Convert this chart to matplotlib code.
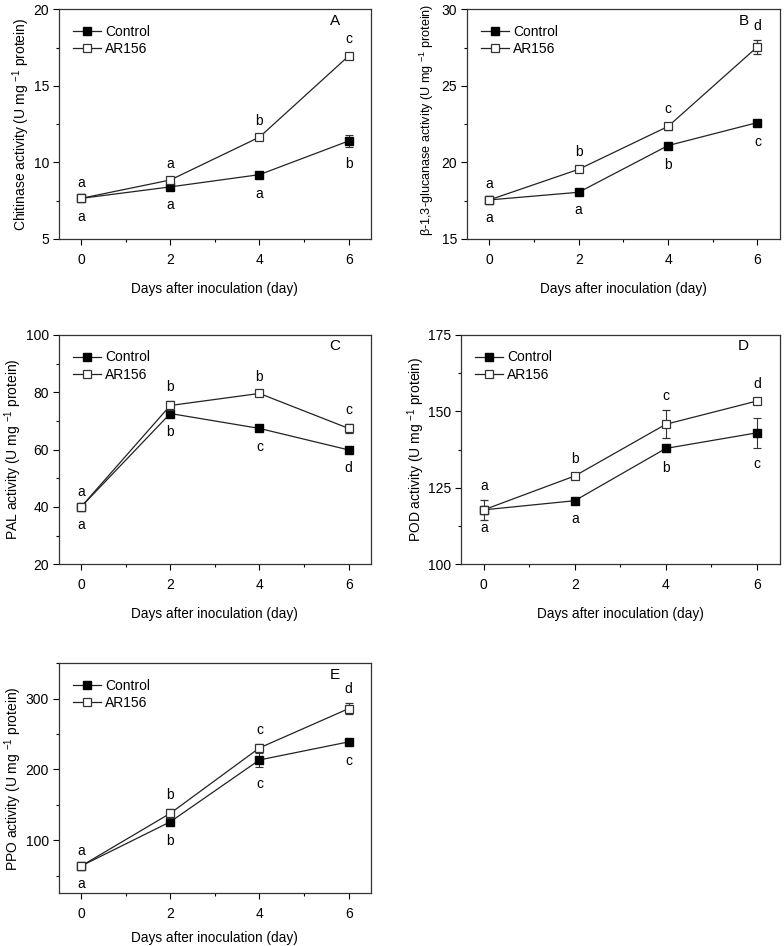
import matplotlib
matplotlib.use('Agg')
import matplotlib.pyplot as plt
from matplotlib.ticker import MultipleLocator
from matplotlib.lines import Line2D

plt.rcParams['font.family'] = ['Liberation Sans', 'DejaVu Sans']
plt.rcParams['mathtext.fontset'] = 'custom'
plt.rcParams['mathtext.rm'] = 'Liberation Sans'
plt.rcParams['mathtext.it'] = 'Liberation Sans:italic'

days = [0, 2, 4, 6]

# A - chitinase
chi_ctrl = [7.65, 8.4, 9.2, 11.4]
chi_ctrl_err = [0.1, 0.1, 0.15, 0.4]
chi_ar = [7.65, 8.85, 11.65, 16.95]
chi_ar_err = [0.1, 0.15, 0.15, 0.2]
chi_ctrl_lab = ['a', 'a', 'a', 'b']
chi_ar_lab = ['a', 'a', 'b', 'c']

# B - beta-1,3-glucanase
glu_ctrl = [17.55, 18.05, 21.1, 22.6]
glu_ctrl_err = [0.1, 0.1, 0.15, 0.15]
glu_ar = [17.55, 19.55, 22.35, 27.55]
glu_ar_err = [0.15, 0.2, 0.25, 0.45]
glu_ctrl_lab = ['a', 'a', 'b', 'c']
glu_ar_lab = ['a', 'b', 'c', 'd']

# C - PAL
pal_ctrl = [40.0, 72.6, 67.4, 59.9]
pal_ctrl_err = [0.5, 0.8, 0.6, 0.6]
pal_ar = [40.0, 75.4, 79.6, 67.4]
pal_ar_err = [0.5, 1.5, 1.0, 1.5]
pal_ctrl_lab = ['a', 'b', 'c', 'd']
pal_ar_lab = ['a', 'b', 'b', 'c']

# D - POD
pod_ctrl = [117.8, 120.8, 137.9, 143.0]
pod_ctrl_err = [0.5, 0.6, 0.8, 4.9]
pod_ar = [117.8, 128.9, 145.8, 153.4]
pod_ar_err = [3.2, 1.0, 4.6, 1.0]
pod_ctrl_lab = ['a', 'a', 'b', 'c']
pod_ar_lab = ['a', 'b', 'c', 'd']

# E - PPO
ppo_ctrl = [63.5, 126.0, 213.5, 239.0]
ppo_ctrl_err = [2.0, 4.0, 10.0, 3.0]
ppo_ar = [63.5, 138.0, 230.5, 286.0]
ppo_ar_err = [2.0, 6.0, 5.0, 8.0]
ppo_ctrl_lab = ['a', 'b', 'c', 'c']
ppo_ar_lab = ['a', 'b', 'c', 'd']

unit = ' (U mg $^{-1}$ protein)'
panels = [
    ('A', 'Chitinase activity' + unit, (5, 20), 5, 2.5,
     chi_ctrl, chi_ctrl_err, chi_ar, chi_ar_err, chi_ctrl_lab, chi_ar_lab),
    ('B', '\u03b2-1,3-glucanase activity' + unit, (15, 30), 5, 2.5,
     glu_ctrl, glu_ctrl_err, glu_ar, glu_ar_err, glu_ctrl_lab, glu_ar_lab),
    ('C', 'PAL activity' + unit, (20, 100), 20, 10,
     pal_ctrl, pal_ctrl_err, pal_ar, pal_ar_err, pal_ctrl_lab, pal_ar_lab),
    ('D', 'POD activity' + unit, (100, 175), 25, 12.5,
     pod_ctrl, pod_ctrl_err, pod_ar, pod_ar_err, pod_ctrl_lab, pod_ar_lab),
    ('E', 'PPO activity' + unit, (25, 350), 100, 50,
     ppo_ctrl, ppo_ctrl_err, ppo_ar, ppo_ar_err, ppo_ctrl_lab, ppo_ar_lab),
]

# axes boxes in figure fractions [left, bottom, width, height]
boxes = [
    [0.0749, 0.7474, 0.3983, 0.2428],
    [0.5957, 0.7474, 0.3989, 0.2428],
    [0.0749, 0.4035, 0.3983, 0.2424],
    [0.5880, 0.4035, 0.4065, 0.2424],
    [0.0749, 0.0557, 0.3983, 0.2431],
]

fig = plt.figure(figsize=(7.84, 9.46), dpi=100)
lc = '#222222'
ms = 6

handles = [
    Line2D([], [], color=lc, lw=0.9, marker='s', ms=ms, mfc='black', mec='black'),
    Line2D([], [], color=lc, lw=0.9, marker='s', ms=ms, mfc='white', mec='#333333', mew=0.9),
]

for i, (tag, ylab, ylim, major, minor, c, ce, t, te, cl, tl) in enumerate(panels):
    ax = fig.add_axes(boxes[i])
    ax.errorbar(days, c, yerr=ce, color=lc, lw=0.9, marker='s', ms=ms,
                mfc='black', mec='black', ecolor='#333333', elinewidth=0.8,
                capsize=3, capthick=0.8, zorder=3)
    ax.errorbar(days, t, yerr=te, color=lc, lw=0.9, marker='s', ms=ms,
                mfc='white', mec='#333333', mew=0.9, ecolor='#333333',
                elinewidth=0.8, capsize=3, capthick=0.8, zorder=4)

    # significance letters: control below, AR156 above
    for x, v, e, s in zip(days, c, ce, cl):
        ax.annotate(s, (x, v - e), xytext=(0, -12), textcoords='offset points',
                    ha='center', va='center', fontsize=10)
    for x, v, e, s in zip(days, t, te, tl):
        ax.annotate(s, (x, v + e), xytext=(0, 10), textcoords='offset points',
                    ha='center', va='center', fontsize=10)

    ax.set_xlim(-0.5, 6.5)
    ax.set_ylim(*ylim)
    ax.set_xticks(days)
    ax.xaxis.set_minor_locator(MultipleLocator(1))
    ax.yaxis.set_major_locator(MultipleLocator(major))
    ax.yaxis.set_minor_locator(MultipleLocator(minor))
    ax.tick_params(which='major', length=4, width=0.8, labelsize=10)
    ax.tick_params(axis='x', which='major', pad=6)
    ax.tick_params(axis='y', which='major', pad=3)
    ax.tick_params(which='minor', length=2.5, width=0.8)
    for sp in ax.spines.values():
        sp.set_linewidth(0.9)
        sp.set_color('#333333')

    ax.set_xlabel('Days after inoculation (day)', fontsize=9.8,
                  labelpad=11 if i < 4 else 7)
    if tag == 'B':
        ax.set_ylabel(ylab, fontsize=9.1, labelpad=1)
        ax.yaxis.set_label_coords(-0.1, 0.52)
    else:
        ax.set_ylabel(ylab, fontsize=10, labelpad=1)
    ax.text(0.885, 0.95, tag, transform=ax.transAxes, fontsize=11,
            ha='center', va='center')
    ax.legend(handles, ['Control', 'AR156'], loc='upper left',
              bbox_to_anchor=(0.015, 0.975), frameon=False,
              fontsize=10, handlelength=2.0, handletextpad=0.3,
              labelspacing=0.25, borderaxespad=0.3)

fig.savefig('out.png', dpi=100)
plt.close(fig)
